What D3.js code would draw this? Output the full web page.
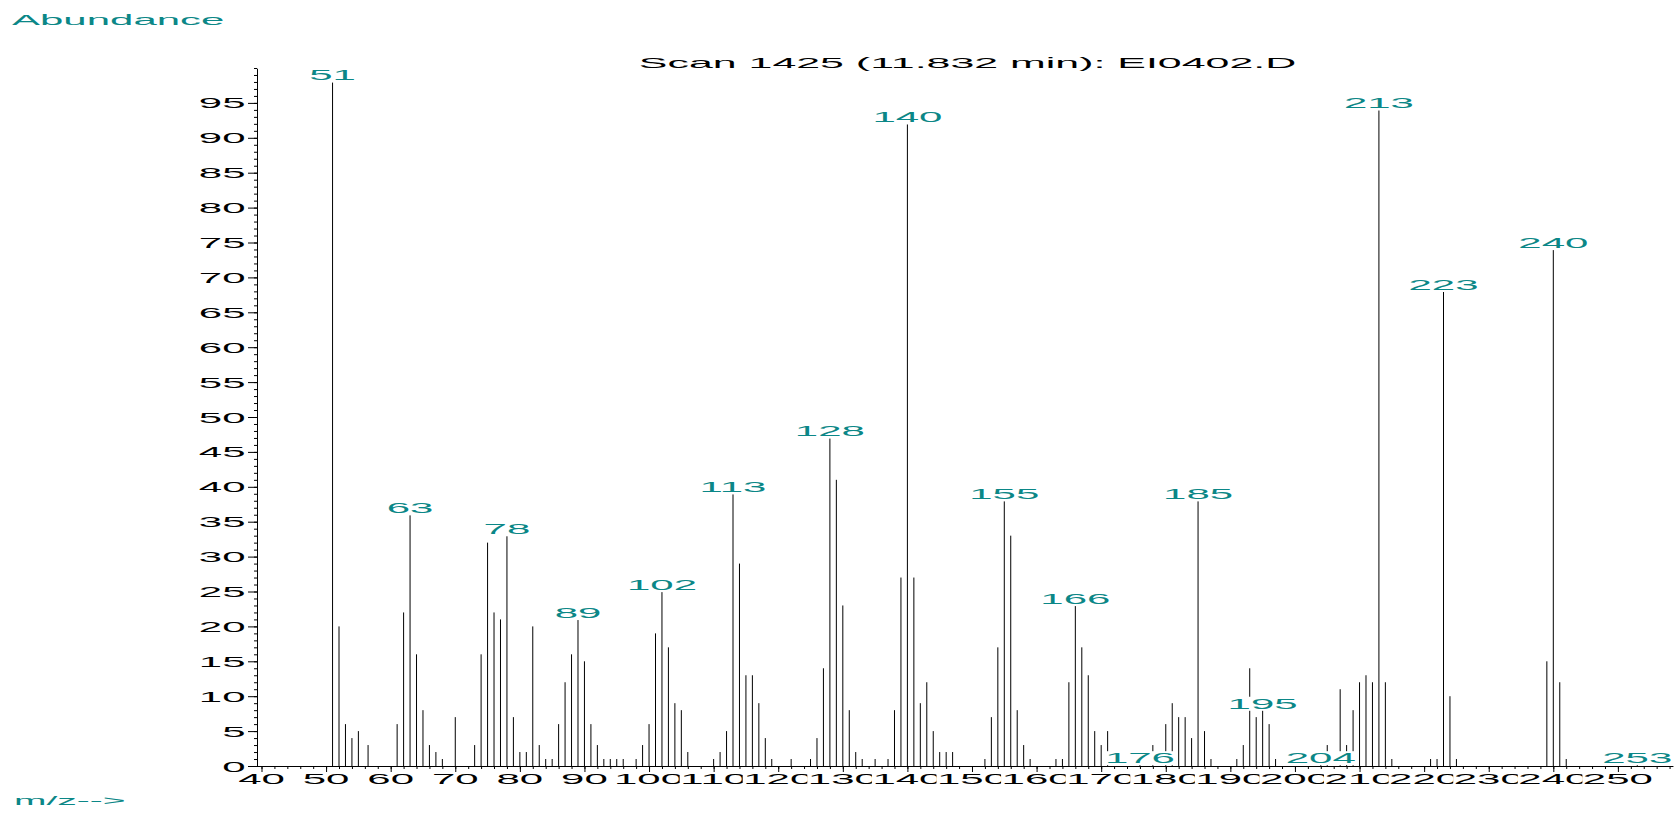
<!DOCTYPE html>
<html lang="en">
<head>
  <meta charset="UTF-8">
  <title>Scan 1425 mass spectrum</title>
  <script src="https://d3js.org/d3.v7.min.js"></script>
  <style>
    body { margin: 0; background: #fff; }
    text { font-family: "Liberation Sans", Arial, sans-serif; }
  </style>
</head>
<body>
  <svg width="1675" height="813"></svg>
  <script>
  // m/z of every line and its abundance
  const mz = [
    51, 52, 53, 54, 55, 56.5,
    61, 62, 63, 64, 65, 66, 67, 68, 70,
    73, 74, 75, 76, 77, 78, 79, 80, 81, 82, 83, 84, 85, 86, 87, 88, 89, 90,
    91, 92, 93, 94, 95, 96, 98, 99, 100, 101, 102, 103, 104, 105, 106,
    110, 111, 112, 113, 114, 115, 116, 117, 118, 119, 122, 125,
    126, 127, 128, 129, 130, 131, 132, 133, 135, 137, 138, 139, 140, 141,
    142, 143, 144, 145, 146, 147, 152, 153, 154, 155, 156, 157, 158, 159,
    163, 164, 165, 166, 167, 168, 169, 170, 171, 176, 178, 180, 181, 182,
    183, 184, 185, 186, 187, 191, 192, 193, 194, 195, 196, 197, 204, 205,
    207, 208, 209, 210, 211, 212, 213, 214, 215, 221, 222, 223, 224, 225,
    239, 240, 241, 242, 253
  ];
  const abundance = [
    98, 20, 6, 4, 5, 3,
    6, 22, 36, 16, 8, 3, 2, 1, 7,
    3, 16, 32, 22, 21, 33, 7, 2, 2, 20, 3, 1, 1, 6, 12, 16, 21, 15,
    6, 3, 1, 1, 1, 1, 1, 3, 6, 19, 25, 17, 9, 8, 2,
    1, 2, 5, 39, 29, 13, 13, 9, 4, 1, 1, 1,
    4, 14, 47, 41, 23, 8, 2, 1, 1, 1, 8, 27, 92, 27,
    9, 12, 5, 2, 2, 2, 1, 7, 17, 38, 33, 8, 3, 1,
    1, 1, 12, 23, 17, 13, 5, 3, 5, 0.2, 3, 6, 9, 7,
    7, 4, 38, 5, 1, 1, 3, 14, 7, 8, 6, 1, 0.2, 3,
    11, 3, 8, 12, 13, 12, 94, 12, 1, 1, 1, 68, 10, 1,
    15, 74, 12, 1, 0.2
  ];
  const labeledPeaks = [51, 63, 78, 89, 102, 113, 128, 140, 155, 166, 176, 185, 195, 204, 213, 223, 240, 253];
  const xTickLabels = [40, 50, 60, 70, 80, 90, 100, 110, 120, 130, 140, 150, 160, 170, 180, 190, 200, 210, 220, 230, 240, 250];
  const yTickLabels = [0, 5, 10, 15, 20, 25, 30, 35, 40, 45, 50, 55, 60, 65, 70, 75, 80, 85, 90, 95];
  const title = "Scan 1425 (11.832 min): EI0402.D";

  const teal = "#0b8787";
  const K = 3; // the original text is drawn very wide
  const svg = d3.select("svg");

  const x = d3.scaleLinear().domain([40, 250]).range([261.5, 1617.9]);
  const y = d3.scaleLinear().domain([0, 100]).range([766, 68]);

  // wide text, optionally on a white box that hides what is below
  function wideText(parent, px, py, str, o) {
    const g = parent.append("g").attr("transform", `translate(${px},${py}) scale(${K},1)`);
    const r = o.bg ? g.append("rect").attr("fill", "#fff") : null;
    const t = g.append("text")
      .attr("text-anchor", o.anchor || "start")
      .attr("font-size", o.size || 14)
      .attr("fill", o.color || "#000")
      .text(str);
    if (r) {
      const b = t.node().getBBox();
      const pad = (o.pad || 0) / K;
      r.attr("x", b.x - pad).attr("y", b.y + 0.6)
        .attr("width", b.width + 2 * pad).attr("height", b.height - 1.6);
    }
    return g;
  }

  const peaks = mz.map((m, i) => ({ mz: m, ab: abundance[i] }));

  // bars
  svg.append("g").selectAll("line")
    .data(peaks)
    .join("line")
    .attr("x1", d => x(d.mz)).attr("x2", d => x(d.mz))
    .attr("y1", y(0)).attr("y2", d => y(d.ab))
    .attr("stroke", "#000")
    .attr("stroke-width", 1);

  // peak labels
  const lab = svg.append("g");
  peaks.filter(d => labeledPeaks.includes(d.mz)).forEach(d => {
    wideText(lab, x(d.mz), Math.min(y(d.ab) - 1.5, 765), d.mz, { anchor: "middle", color: teal, bg: true });
  });

  // x tick labels, each one covering the end of the previous
  const xl = svg.append("g");
  xTickLabels.forEach(v => {
    wideText(xl, x(v), 783.5, v, { anchor: "middle", bg: true, pad: 0.5 });
  });

  // y tick labels
  const yl = svg.append("g");
  yTickLabels.forEach(v => {
    wideText(yl, 245.5, y(v) + 5.5, v, { anchor: "end" });
  });

  // x axis: minor every 2, major every 10
  svg.append("g").attr("transform", `translate(0,${y(0)})`)
    .call(d3.axisBottom(x).tickValues(d3.range(40, 259, 2)).tickSize(3).tickSizeOuter(0).tickFormat(""))
    .call(g => g.select(".domain").remove());
  svg.append("g").attr("transform", `translate(0,${y(0)})`)
    .call(d3.axisBottom(x).tickValues(xTickLabels).tickSize(6).tickSizeOuter(0).tickFormat(""))
    .call(g => g.select(".domain").remove());

  // y axis: minor every 1, major every 5
  const yAxisX = 257;
  svg.append("g").attr("transform", `translate(${yAxisX},0)`)
    .call(d3.axisLeft(y).tickValues(d3.range(0, 101, 1)).tickSize(3).tickSizeOuter(0).tickFormat(""))
    .call(g => g.select(".domain").remove());
  svg.append("g").attr("transform", `translate(${yAxisX},0)`)
    .call(d3.axisLeft(y).tickValues(yTickLabels).tickSize(9).tickSizeOuter(0).tickFormat(""))
    .call(g => g.select(".domain").remove());

  svg.selectAll(".tick line").attr("stroke", "#000");

  svg.append("line")
    .attr("x1", yAxisX).attr("x2", x(258.6))
    .attr("y1", y(0) + 0.5).attr("y2", y(0) + 0.5)
    .attr("stroke", "#000");
  svg.append("line")
    .attr("x1", yAxisX + 0.5).attr("x2", yAxisX + 0.5)
    .attr("y1", y(0)).attr("y2", y(99.9))
    .attr("stroke", "#000");

  // titles
  wideText(svg, 967.5, 67.5, title, { anchor: "middle", size: 14.3 });
  wideText(svg, 12, 25, "Abundance", { color: teal });
  wideText(svg, 14, 805, "m/z-->", { color: teal, size: 13 });
  </script>
</body>
</html>
